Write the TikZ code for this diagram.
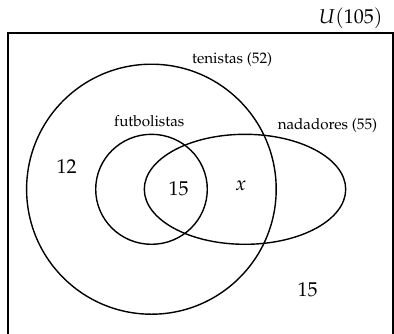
\documentclass[tikz,border=0pt]{standalone}
\usepackage[T1]{fontenc}
\usepackage{mathpazo}
\tikzset{
  setline/.style={line width=1.4pt},
  lbl/.style={inner sep=0pt, font=\fontsize{15.2}{18}\selectfont},
  num/.style={inner sep=0pt, font=\fontsize{20}{24}\selectfont},
}
\begin{document}
\begin{tikzpicture}[x=1pt,y=-1pt]
\useasboundingbox (0,0) rectangle (394,333);
\clip (0,0) rectangle (394,333);
\draw[line width=1.8pt] (8.3,340) -- (8.3,32.7) -- (392.8,32.7) -- (392.8,340);
\node[num] (U) at (350.8,18.3) {$U(105)$};
\draw[setline] (151.4,189.2) circle [x radius=124.8, y radius=125];
\draw[setline] (151.5,189.3) circle [x radius=55.8, y radius=55];
\draw[setline] (245,189.3) circle [x radius=100.7, y radius=55];
\node[lbl] (ten) at (232.2,59.7) {tenistas (52)};
\node[lbl] (fut) at (149.3,121.5) {futbolistas};
\node[lbl] (nad) at (327.5,125.3) {nadadores (55)};
\node[num] (n12) at (66.7,167) {12};
\node[num] (n15a) at (178.7,188.8) {15};
\node[num] (nx) at (240.7,185.5) {$x$};
\node[num] (n15b) at (307.5,289.5) {15};
\end{tikzpicture}
\end{document}
